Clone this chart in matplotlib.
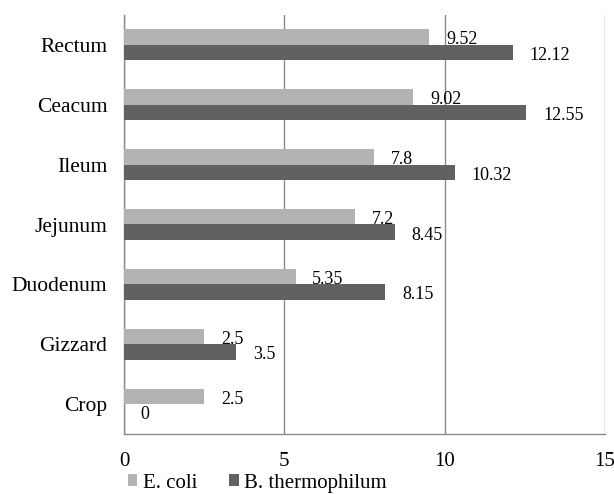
import matplotlib

matplotlib.use('Agg')
import matplotlib.pyplot as plt
import numpy as np

# Datos por segmento del tracto digestivo
segments = ['Crop', 'Gizzard', 'Duodenum', 'Jejunum', 'Ileum', 'Ceacum', 'Rectum']
e_coli = [2.5, 2.5, 5.35, 7.2, 7.8, 9.02, 9.52]
b_thermo = [0, 3.5, 8.15, 8.45, 10.32, 12.55, 12.12]
e_coli_labels = ['2.5', '2.5', '5.35', '7.2', '7.8', '9.02', '9.52']
b_thermo_labels = ['0', '3.5', '8.15', '8.45', '10.32', '12.55', '12.12']
x_ticks = [0, 5, 10, 15]

light_color = '#b3b3b3'
dark_color = '#616161'
grid_color = '#8a8a8a'

plt.rcParams['font.family'] = ['Liberation Serif', 'DejaVu Serif']

fig = plt.figure(figsize=(6.14, 4.94), dpi=100)
ax = fig.add_axes([124 / 614, 1 - 434 / 494, 481 / 614, 419 / 494])

y = np.arange(len(segments))
h = 0.26
ax.barh(y + h / 2, e_coli, height=h, color=light_color, label='E. coli', zorder=3)
ax.barh(y - h / 2, b_thermo, height=h, color=dark_color, label='B. thermophilum', zorder=3)

# Etiquetas de valor a la derecha de cada barra
for i in range(len(segments)):
    ax.annotate(e_coli_labels[i], (e_coli[i], y[i] + h / 2), xytext=(12, -2),
                textcoords='offset points', ha='left', va='center', fontsize=13)
    ax.annotate(b_thermo_labels[i], (b_thermo[i], y[i] - h / 2), xytext=(12, -2),
                textcoords='offset points', ha='left', va='center', fontsize=13)

ax.set_xlim(0, 15)
ax.set_ylim(-0.5, len(segments) - 0.5)
ax.set_xticks(x_ticks)
ax.set_xticklabels([str(t) for t in x_ticks], fontsize=15)
ax.set_yticks(y)
ax.set_yticklabels(segments, fontsize=15.5)
ax.tick_params(axis='both', length=0)
ax.tick_params(axis='x', pad=13)
ax.tick_params(axis='y', pad=12)

ax.grid(True, axis='x', color=grid_color, linewidth=1.0, zorder=0)
for side in ['top', 'right']:
    ax.spines[side].set_visible(False)
for side in ['left', 'bottom']:
    ax.spines[side].set_color(grid_color)
    ax.spines[side].set_linewidth(1.0)

ax.legend(loc='center left', bbox_to_anchor=(4 / 481, -49 / 419), ncol=2, frameon=False,
          fontsize=15, handlelength=0.45, handleheight=0.45, handletextpad=0.25,
          columnspacing=1.55, borderaxespad=0, borderpad=0)

fig.savefig('out.png', dpi=100)
